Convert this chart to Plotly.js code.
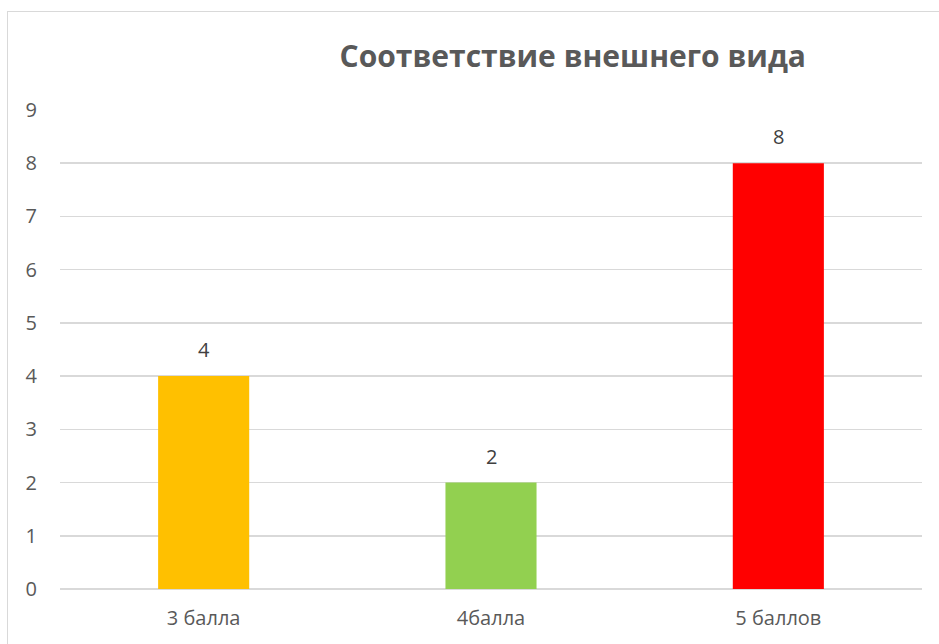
<!DOCTYPE html>
<html><head><meta charset="utf-8">
<script src="https://cdn.plot.ly/plotly-3.0.1.min.js"></script>
<style>
html,body{margin:0;padding:0;overflow:hidden;background:#fff;}
#wrap{position:relative;width:939px;height:644px;}
#frame{position:absolute;left:7px;top:11px;width:1000px;height:700px;border:1.5px solid #d9d9d9;box-sizing:border-box;pointer-events:none;}
#chart{position:absolute;left:0;top:0;width:939px;height:644px;}
</style></head>
<body><div id="wrap"><div id="chart"></div><div id="frame"></div></div>
<script>
const categories = ["3 балла", "4балла", "5 баллов"];
const values = [4, 2, 8];
const colors = ["#FFC000", "#92D050", "#FF0000"];
const yTicks = [0,1,2,3,4,5,6,7,8,9];

const trace = {
  type: 'bar', x: categories, y: values,
  marker: {color: colors},
  hoverinfo: 'none'
};
const annotations = categories.map((c, i) => ({
  x: c, y: values[i], xref: 'x', yref: 'y', text: String(values[i]),
  showarrow: false, yanchor: 'bottom', yshift: 11,
  font: {family: 'Open Sans', size: 20, color: '#404040'}
}));
const layout = {
  width: 939, height: 644,
  margin: {l: 60, r: 17, t: 110, b: 55},
  paper_bgcolor: '#fff', plot_bgcolor: '#fff',
  bargap: 0.683,
  showlegend: false,
  title: {text: '<b>Соответствие внешнего вида</b>', x: 0.61, xanchor: 'center', y: 0.912, yanchor: 'middle',
          font: {family: 'Open Sans', size: 30, color: '#595959'}},
  xaxis: {type: 'category', showgrid: false, zeroline: false, showline: false, ticks: '',
          ticklabelstandoff: 15, tickfont: {family: 'Open Sans', size: 20, color: '#595959'}},
  yaxis: {range: [0, 9], tickvals: yTicks, ticktext: yTicks.map(String), showgrid: true, gridcolor: '#d9d9d9', gridwidth: 1.5,
          zeroline: true, zerolinecolor: '#d9d9d9', zerolinewidth: 1.5, showline: false, ticks: '',
          ticklabelstandoff: 22, tickfont: {family: 'Open Sans', size: 20, color: '#595959'}},
  annotations: annotations
};
Plotly.newPlot('chart', [trace], layout, {displayModeBar: false, staticPlot: true});
</script></body></html>
